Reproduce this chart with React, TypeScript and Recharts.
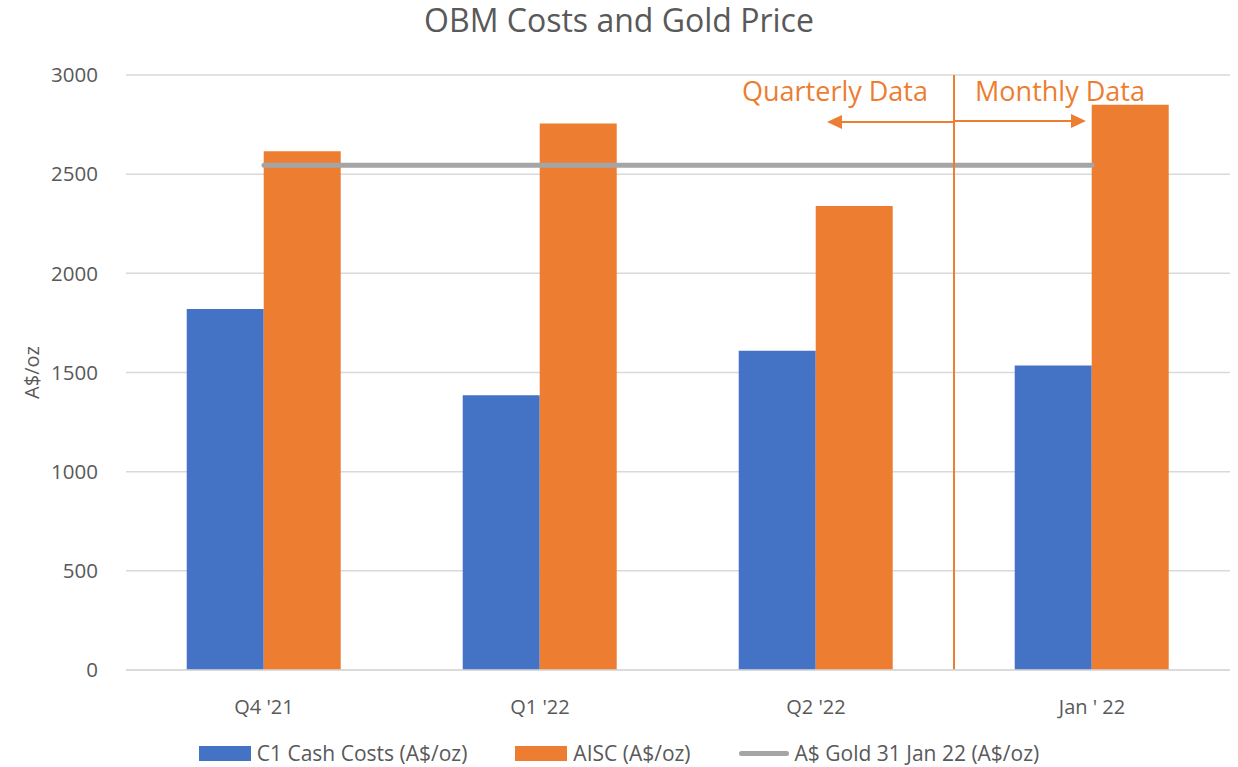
import { ComposedChart, Bar, Line, XAxis, YAxis, CartesianGrid, Legend, ReferenceLine } from 'recharts';

const categories = ["Q4 '21", "Q1 '22", "Q2 '22", "Jan ' 22"];
const c1CashCosts = [1820, 1385, 1610, 1535];
const aisc = [2615, 2755, 2340, 2850];
const goldPrice = [2545, 2545, 2545, 2545];
const yTicks = [0, 500, 1000, 1500, 2000, 2500, 3000];

const BLUE = '#4472C4';
const ORANGE = '#ED7D31';
const GREY = '#A5A5A5';
const TEXT = '#595959';
const FONT = '"Open Sans", "Noto Sans", sans-serif';

const data = categories.map((name, i) => ({
  name,
  c1: c1CashCosts[i],
  aisc: aisc[i],
  gold: goldPrice[i],
}));

// text + arrows sitting on the quarterly/monthly divider
const DividerLabel = (props: any) => {
  const { viewBox } = props;
  if (!viewBox) return null;
  const x = viewBox.x;
  const top = viewBox.y;
  const ay = top + 47;
  return (
    <g>
      <text x={x - 119} y={top + 26} textAnchor="middle" fill={ORANGE} fontSize={27} fontFamily={FONT}>
        Quarterly Data
      </text>
      <text x={x + 106} y={top + 26} textAnchor="middle" fill={ORANGE} fontSize={27} fontFamily={FONT}>
        Monthly Data
      </text>
      <line x1={x - 112} y1={ay} x2={x} y2={ay} stroke={ORANGE} strokeWidth={2} />
      <polygon points={`${x - 127},${ay} ${x - 112},${ay - 7} ${x - 112},${ay + 7}`} fill={ORANGE} />
      <line x1={x} y1={ay - 1} x2={x + 118} y2={ay - 1} stroke={ORANGE} strokeWidth={2} />
      <polygon points={`${x + 132},${ay - 1} ${x + 117},${ay - 8} ${x + 117},${ay + 6}`} fill={ORANGE} />
    </g>
  );
};

const legendItems = [
  { label: 'C1 Cash Costs (A$/oz)', color: BLUE, type: 'rect' },
  { label: 'AISC (A$/oz)', color: ORANGE, type: 'rect' },
  { label: 'A$ Gold 31 Jan 22 (A$/oz)', color: GREY, type: 'line' },
];

const LegendContent = () => (
  <div
    style={{
      display: 'flex',
      justifyContent: 'center',
      gap: 48,
      paddingTop: 12,
      fontFamily: FONT,
      fontSize: 21,
      color: TEXT,
    }}
  >
    {legendItems.map((it) => (
      <div key={it.label} style={{ display: 'flex', alignItems: 'center' }}>
        {it.type === 'rect' ? (
          <span style={{ display: 'inline-block', width: 52, height: 15, background: it.color, marginRight: 6 }} />
        ) : (
          <span style={{ display: 'inline-block', width: 50, height: 5, borderRadius: 3, background: it.color, marginRight: 6 }} />
        )}
        <span>{it.label}</span>
      </div>
    ))}
  </div>
);

export default function App() {
  return (
    <div style={{ position: 'absolute', left: 0, top: 0, width: 1238, height: 767, background: '#fff' }}>
      <div
        style={{
          position: 'absolute',
          top: 0,
          width: '100%',
          textAlign: 'center',
          fontFamily: FONT,
          fontSize: 32,
          lineHeight: '40px',
          color: TEXT,
        }}
      >
        OBM Costs and Gold Price
      </div>
      <ComposedChart
        width={1238}
        height={767}
        data={data}
        margin={{ top: 75, right: 8, bottom: 0, left: 8 }}
        barCategoryGap="22%"
        barGap={0}
      >
        <CartesianGrid vertical={false} stroke="#D9D9D9" strokeWidth={1.5} />
        <XAxis
          dataKey="name"
          axisLine={{ stroke: '#D9D9D9', strokeWidth: 1.5 }}
          tickLine={false}
          tick={{ fill: TEXT, fontSize: 20, fontFamily: FONT }}
          tickMargin={24}
          height={57}
        />
        <YAxis
          domain={[0, 3000]}
          ticks={yTicks}
          axisLine={false}
          tickLine={false}
          tick={{ fill: TEXT, fontSize: 20.5, fontFamily: FONT }}
          tickMargin={22}
          width={118}
          label={{
            value: 'A$/oz',
            angle: -90,
            position: 'insideLeft',
            offset: 24,
            style: { fill: TEXT, fontSize: 20, fontFamily: FONT, textAnchor: 'middle' },
          }}
        />
        <Legend verticalAlign="bottom" height={40} content={<LegendContent />} />
        <Bar dataKey="c1" name="C1 Cash Costs (A$/oz)" fill={BLUE} isAnimationActive={false} />
        <Bar dataKey="aisc" name="AISC (A$/oz)" fill={ORANGE} isAnimationActive={false} />
        <Line
          dataKey="gold"
          name="A$ Gold 31 Jan 22 (A$/oz)"
          stroke={GREY}
          strokeWidth={5}
          strokeLinecap="round"
          dot={false}
          activeDot={false}
          isAnimationActive={false}
        />
        <ReferenceLine
          x="Jan ' 22"
          position="start"
          stroke={ORANGE}
          strokeWidth={2}
          label={<DividerLabel />}
        />
      </ComposedChart>
    </div>
  );
}
